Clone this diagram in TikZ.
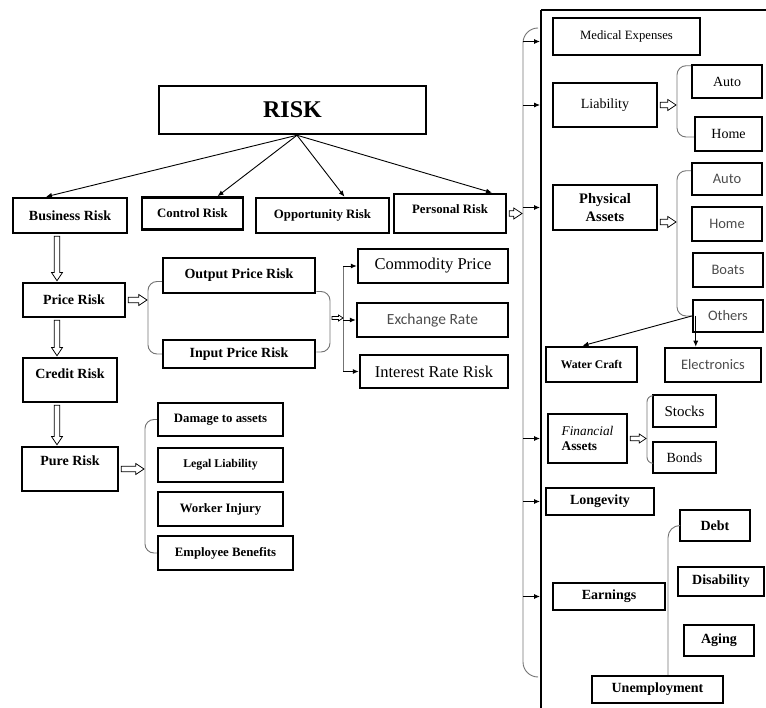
\documentclass[tikz,border=0pt]{standalone}
\usepackage{fontspec}
\setmainfont{Liberation Serif}
\newfontfamily\calfont{Carlito}
\usetikzlibrary{arrows.meta,calc}

\tikzset{
  box/.style={draw, line width=2.5pt, inner sep=0pt, align=center,
    font=\bfseries\fontsize{14}{17}\selectfont},
  small/.style={font=\bfseries\fontsize{12.8}{15}\selectfont},
  plain/.style={font=\fontsize{14}{17}\selectfont},
  large/.style={font=\fontsize{16.5}{19}\selectfont},
  faint/.style={font=\calfont\fontsize{14.5}{17}\selectfont, text=black!70},
  arr/.style={line width=0.9pt, -{Latex[length=6pt,width=5pt]}},
  hollow/.style={draw, line width=0.7pt, fill=white, to path={
    let \p1=(\tikztostart), \p2=(\tikztotarget),
        \n1={veclen(\x2-\x1,\y2-\y1)}, \n2={atan2(\y2-\y1,\x2-\x1)} in
    {[shift={(\p1)}, rotate=\n2]
      (2pt,-0.25*#1) -- (\n1-1pt-0.75*#1,-0.25*#1) -- (\n1-1pt-0.75*#1,-0.5*#1)
      -- (\n1-1pt,0pt) -- (\n1-1pt-0.75*#1,0.5*#1) -- (\n1-1pt-0.75*#1,0.25*#1)
      -- (2pt,0.25*#1) -- cycle}}},
  hollow/.default=11pt,
  brk/.style={draw=black!55, line width=0.9pt, rounded corners=9pt},
}

\begin{document}
\begin{tikzpicture}[x=1pt, y=-1pt]
\useasboundingbox (0,0) rectangle (766,708);

% top of the tree
\node[box, minimum width=267, minimum height=48, font=\bfseries\fontsize{24}{26}\selectfont] (risk) at (292.5,110) {RISK};
\node[box, minimum width=114, minimum height=35] (bus) at (70,215.5) {Business Risk};
\node[box, small, minimum width=101, minimum height=32] (ctrl) at (192.5,213.5) {Control Risk};
\node[box, small, minimum width=133, minimum height=35] (opp) at (322.5,215.5) {Opportunity Risk};
\node[box, small, minimum width=112, minimum height=39, text depth=8pt] (pers) at (450,213.5) {Personal Risk};
\coordinate (rs) at ([xshift=4.5pt]risk.south);
\draw[arr] (rs) -- ([xshift=-24pt]bus.north);
\draw[arr] (rs) -- ([xshift=25pt]ctrl.north);
\draw[arr] (rs) -- ([xshift=22pt]opp.north);
\draw[arr] (rs) -- ([xshift=42pt]pers.north);

% business risk column
\node[box, minimum width=102, minimum height=34] (price) at (74,300) {Price Risk};
\node[box, minimum width=94, minimum height=44, text depth=13pt] (cred) at (70,380) {Credit Risk};
\node[box, minimum width=96, minimum height=44, text depth=16pt] (pure) at (70,469) {Pure Risk};
\coordinate (lc) at (57,0);
\draw[hollow] (lc |- bus.south) to (lc |- price.north);
\draw[hollow] (lc |- price.south) to (lc |- cred.north);
\draw[hollow] (lc |- cred.south) to (lc |- pure.north);

% price risk
\node[box, minimum width=152, minimum height=35] (opr) at (239,275.5) {Output Price Risk};
\node[box, minimum width=152, minimum height=28] (ipr) at (239,354) {Input Price Risk};
\coordinate (pb) at (148,318);
\coordinate (qb) at (330,318);
\coordinate (spine) at (343,318);
\draw[brk] ([yshift=-6pt]opr.west) -| (pb) |- (ipr.west);
\draw[hollow] (price.east) to (price.east -| pb);
\draw[brk] ([yshift=-16pt]opr.east) -| (qb) |- ([yshift=2pt]ipr.east);
\node[box, large, minimum width=150, minimum height=34] (cp) at (433,266) {Commodity Price};
\node[box, faint, font=\calfont\fontsize{15.5}{18}\selectfont, minimum width=151, minimum height=34] (exr) at (432.5,320) {Exchange Rate};
\node[box, large, minimum width=148, minimum height=33] (ir) at (434,371.5) {Interest Rate Risk};
\draw[brk, rounded corners=0pt] (spine |- cp) -- (spine |- ir);
\draw[hollow=6pt] (qb) to ([xshift=1pt]spine);
\foreach \n in {cp,exr,ir}
  \draw[arr] (spine |- \n) -- (\n.west);

% pure risk
\node[box, small, minimum width=125, minimum height=33] (dmg) at (220.5,419.5) {Damage to assets};
\node[box, font=\bfseries\fontsize{11.8}{14}\selectfont, minimum width=125, minimum height=34] (legal) at (220.5,465) {Legal Liability};
\node[box, small, minimum width=125, minimum height=34] (work) at (220.5,509) {Worker Injury};
\node[box, small, minimum width=135, minimum height=34] (emp) at (225.5,553) {Employee Benefits};
\coordinate (ub) at (145,470);
\draw[brk] (dmg.west) -| (ub) |- (emp.west);
\draw[hollow] (pure.east) to (pure.east -| ub);

% personal risk panel
\coordinate (ptop) at (541,10);
\draw[line width=1.6pt] (ptop) -- (766,10);
\draw[line width=2.8pt] (ptop) -- (541,708);
\coordinate (bt) at (538,28);
\coordinate (bb) at (536,677);
\coordinate (bx) at (523,360);
\coordinate (px) at (540,360);
\draw[brk, rounded corners=15pt] (bt) -| (bx) |- (bb);
\draw[hollow] (pers.east) to (pers.east -| bx);

\node[box, plain, font=\fontsize{12.7}{15}\selectfont, minimum width=147, minimum height=37] (med) at (626.5,36.5) {Medical Expenses};
\node[box, plain, minimum width=104, minimum height=44] (liab) at (605,105) {Liability};
\node[box, plain, minimum width=70, minimum height=33] (autoa) at (727,81.5) {Auto};
\node[box, plain, minimum width=67, minimum height=34] (homea) at (728.5,134) {Home};
\coordinate (lb) at (677,105);
\draw[brk] ([yshift=-2pt]autoa.north west) -| (lb) |- ([yshift=-3pt]homea.west);
\draw[hollow] (liab.east) to (liab.east -| lb);

\node[box, font=\bfseries\fontsize{14.5}{18}\selectfont, minimum width=104, minimum height=45] (phys) at (605,207.5) {Physical\\Assets};
\node[box, faint, minimum width=70, minimum height=32] (autob) at (727,179) {Auto};
\node[box, faint, minimum width=70, minimum height=34] (homeb) at (727,224) {Home};
\node[box, faint, minimum width=70, minimum height=34] (boats) at (728,270) {Boats};
\node[box, faint, minimum width=70, minimum height=32] (oth) at (728,316) {Others};
\coordinate (fb) at (677,240);
\coordinate (physout) at ([yshift=-14.5pt]phys.east);
\draw[brk] ([yshift=-9pt]autob.north west) -| (fb) |- (oth.west);
\draw[hollow] (physout) to (physout -| fb);

\node[box, font=\bfseries\fontsize{11.7}{14}\selectfont, minimum width=91, minimum height=35] (wc) at (591.5,364.5) {Water Craft};
\node[box, faint, minimum width=96, minimum height=34] (elec) at (713,365) {Electronics};
\coordinate (othin) at ([xshift=4pt]oth.west);
\draw[arr] (oth.west) -- ([xshift=-9pt]wc.north);
\draw[arr] (othin) -- (othin |- elec.north);

\node[box, align=left, font=\bfseries\fontsize{13.3}{15}\selectfont, minimum width=79, minimum height=49] (fin) at (587.5,438.5) {{\mdseries\itshape Financial}\\Assets};
\node[box, plain, font=\fontsize{15}{17}\selectfont, minimum width=63, minimum height=32] (stk) at (684.5,411) {Stocks};
\node[box, plain, minimum width=63, minimum height=31] (bnd) at (684.5,457.5) {Bonds};
\coordinate (sb) at (647,437);
\draw[brk, rounded corners=6pt] ([yshift=-2pt]stk.north west) -| (sb) |- ([yshift=11pt]bnd.south west);
\draw[hollow=9pt] (fin.east) to (fin.east -| sb);

\node[box, minimum width=108, minimum height=27] (long) at (600,501.5) {Longevity};
\node[box, minimum width=70, minimum height=31] (debt) at (715,525.5) {Debt};
\node[box, minimum width=86, minimum height=29] (dis) at (721,581.5) {Disability};
\node[box, minimum width=70, minimum height=31] (aging) at (719,640.5) {Aging};
\node[box, minimum width=112, minimum height=27] (earn) at (609,596.5) {Earnings};
\node[box, minimum width=131, minimum height=27] (unemp) at (657.5,689.5) {Unemployment};
\draw[brk, rounded corners=12pt] (debt.west) -| ([xshift=10.5pt]unemp.north);

% arrows into the panel
\coordinate (medarr) at ([yshift=-5pt]med.west);
\draw[arr] (bx |- medarr) -- (px |- medarr);
\foreach \n in {liab,phys,fin,long,earn}
  \draw[arr] (bx |- \n) -- (px |- \n);
\end{tikzpicture}
\end{document}
